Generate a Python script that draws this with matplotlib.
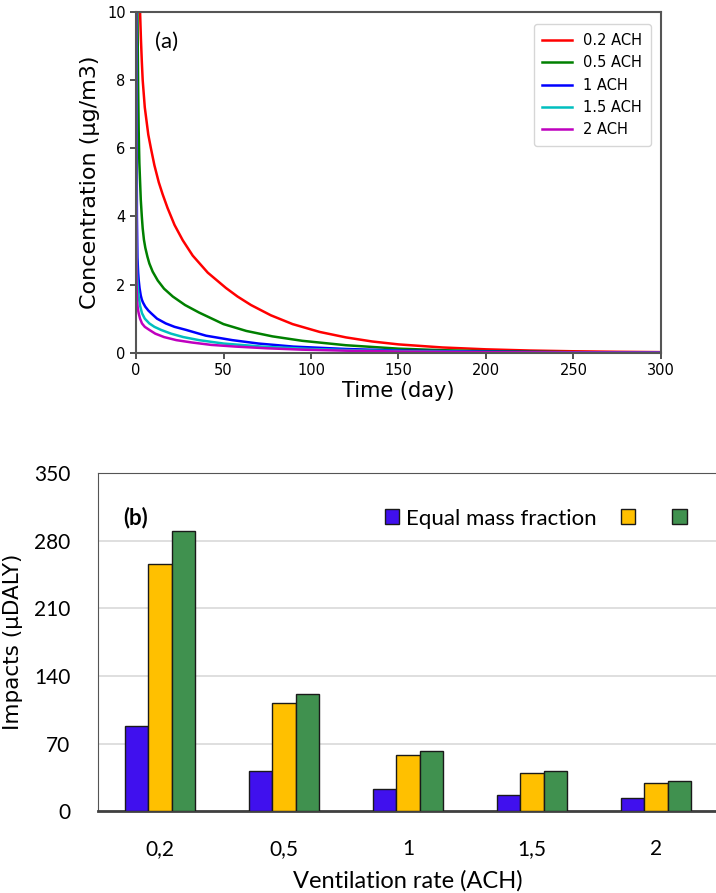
import numpy as np
import matplotlib
matplotlib.use('Agg')
import matplotlib.pyplot as plt

# ---- panel (a): concentration decay ----
t_02 = [1.5, 2.3, 2.8, 3.3, 3.8, 5, 7, 8.5, 10.5, 13, 15.2, 18, 22, 26.7, 32.4, 41, 51.4, 58, 65.7, 77,
        89.5, 105, 120, 135, 150, 175, 200, 225, 250, 275, 300]
c_02 = [14, 10, 9.2, 8.55, 8.0, 7.2, 6.4, 6.0, 5.5, 5.0, 4.65, 4.25, 3.75, 3.3, 2.85, 2.35, 1.9, 1.65, 1.4, 1.1,
        0.84, 0.61, 0.45, 0.33, 0.245, 0.155, 0.1, 0.065, 0.043, 0.028, 0.018]

t_05 = [0.3, 0.8, 1.2, 1.5, 1.9, 2.7, 3.3, 3.8, 4.5, 5.3, 6.5, 7.6, 9.5, 12.4, 16, 21, 28, 36, 50, 63,
        78, 95, 120, 150, 175, 200, 250, 300]
c_05 = [14, 10, 7.8, 6.55, 5.57, 4.5, 4.0, 3.65, 3.32, 3.08, 2.82, 2.62, 2.38, 2.12, 1.88, 1.65, 1.4, 1.18, 0.84, 0.64,
        0.48, 0.35, 0.22, 0.12, 0.075, 0.045, 0.017, 0.007]

t_1 = [0.1, 0.25, 0.5, 0.8, 1.2, 1.5, 2, 2.7, 3.3, 4, 5.3, 7, 8.6, 12, 17, 22, 28.6, 40, 55, 70,
       90, 120, 150, 200, 250, 300]
c_1 = [14, 8, 4, 2.8, 2.35, 2.14, 1.9, 1.68, 1.56, 1.47, 1.35, 1.24, 1.16, 1.0, 0.86, 0.76, 0.67, 0.5, 0.37, 0.27,
       0.18, 0.11, 0.065, 0.03, 0.013, 0.006]

t_15 = [0.05, 0.15, 0.3, 0.6, 1, 1.5, 2.3, 3.4, 5, 7.6, 10.5, 14.3, 20, 27, 36, 50, 72, 100, 130,
        160, 200, 250, 300]
c_15 = [12, 6, 3.5, 2.3, 1.9, 1.65, 1.38, 1.16, 1.0, 0.86, 0.76, 0.67, 0.56, 0.46, 0.37, 0.27, 0.18, 0.11, 0.065,
        0.04, 0.02, 0.009, 0.004]

t_2 = [0.02, 0.08, 0.15, 0.3, 0.6, 1, 1.5, 2.3, 3.4, 5, 7.6, 11, 16, 23, 32, 43, 57, 75, 95,
       120, 150, 200, 250, 300]
c_2 = [12, 5, 3, 2.0, 1.5, 1.3, 1.16, 1.0, 0.86, 0.76, 0.67, 0.56, 0.46, 0.37, 0.3, 0.23, 0.18, 0.13, 0.09,
       0.06, 0.035, 0.015, 0.007, 0.003]

series_a = [
    ('0.2 ACH', t_02, c_02, 'red'),
    ('0.5 ACH', t_05, c_05, 'green'),
    ('1 ACH', t_1, c_1, 'blue'),
    ('1.5 ACH', t_15, c_15, 'c'),
    ('2 ACH', t_2, c_2, 'm'),
]

# ---- panel (b): impacts ----
rates = ['0,2', '0,5', '1', '1,5', '2']
equal_mass = [88.6, 41.9, 23.2, 17.0, 13.2]
series_2 = [256, 112.2, 57.8, 39.1, 29.4]
series_3 = [290.8, 121.8, 62.0, 41.9, 31.2]

fig = plt.figure(figsize=(7.16, 8.93), dpi=100)

ax1 = fig.add_axes([0.190, 0.605, 0.733, 0.3816])
for label, t, c, col in series_a:
    ax1.plot(t, c, color=col, lw=1.8, label=label)
ax1.set_xlim(0, 300)
ax1.set_ylim(0, 10)
ax1.set_xticks(np.arange(0, 301, 50))
ax1.set_yticks(np.arange(0, 11, 2))
ax1.tick_params(labelsize=10.5, color='#333333', width=1.2, length=4)
for s in ax1.spines.values():
    s.set_color('#555555')
    s.set_linewidth(1.5)
ax1.set_xlabel('Time (day)', fontsize=15, labelpad=2)
ax1.set_ylabel('Concentration (\u03bcg/m3)', fontsize=16, labelpad=5)
ax1.text(0.037, 0.895, '(a)', transform=ax1.transAxes, fontsize=16, family='Lato')
ax1.legend(loc='upper right', fontsize=10.5, handlelength=2.0, labelspacing=0.5,
           borderpad=0.6, bbox_to_anchor=(0.995, 0.985))

ax2 = fig.add_axes([0.137, 0.0918, 0.866, 0.378])
x = np.arange(len(rates))
w = 0.19
ax2.bar(x - w, equal_mass, w, color='#4010EE', edgecolor='#1a1a1a', lw=1, label='Equal mass fraction', zorder=3)
ax2.bar(x, series_2, w, color='#FFC000', edgecolor='#1a1a1a', lw=1, label=' ', zorder=3)
ax2.bar(x + w, series_3, w, color='#40914F', edgecolor='#1a1a1a', lw=1, label=' ', zorder=3)
ax2.set_xlim(-0.5, 4.5)
ax2.set_ylim(0, 350)
ax2.set_yticks(np.arange(0, 351, 70))
ax2.set_xticks(x)
ax2.set_xticklabels(rates)
ax2.yaxis.grid(True, color='#d9d9d9', lw=1.2, zorder=0)
ax2.tick_params(axis='both', length=0, labelsize=15)
ax2.tick_params(axis='y', pad=20)
ax2.tick_params(axis='x', pad=20)
for lab in ax2.get_xticklabels() + ax2.get_yticklabels():
    lab.set_family('Lato')
ax2.spines['right'].set_visible(False)
ax2.spines['top'].set_color('#555555')
ax2.spines['left'].set_color('#555555')
ax2.spines['bottom'].set_color('#404040')
ax2.spines['bottom'].set_linewidth(2)
ax2.set_xlabel('Ventilation rate (ACH)', fontsize=17, family='Lato', labelpad=8)
ax2.set_ylabel('Impacts (\u03bcDALY)', fontsize=15.5, labelpad=8)
ax2.text(0.04, 0.85, '(b)', transform=ax2.transAxes, fontsize=16, family='Lato', weight='bold')
leg = ax2.legend(loc='upper left', bbox_to_anchor=(0.43, 0.955), ncol=3, frameon=False,
                 prop={'family': 'Lato', 'size': 16}, handlelength=0.65, handleheight=0.65,
                 handletextpad=0.3, columnspacing=1.1)

fig.savefig('out.png', dpi=100)
